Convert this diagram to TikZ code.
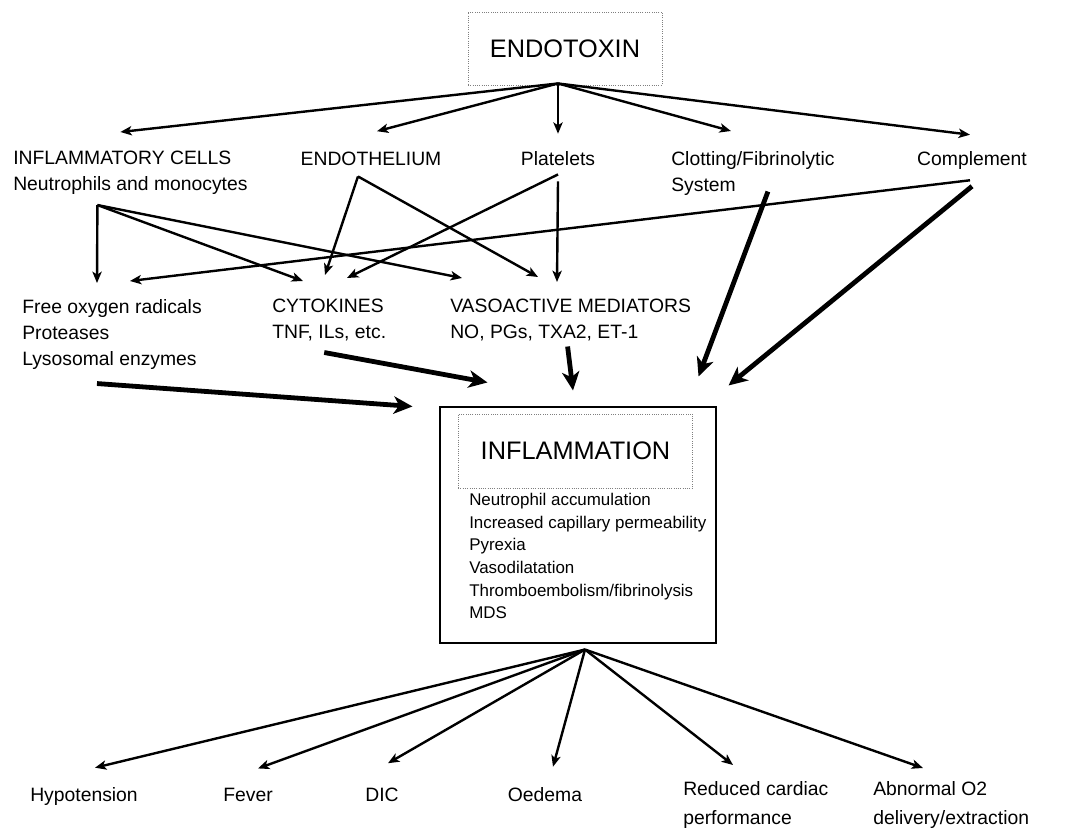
\documentclass[tikz,border=0pt]{standalone}
\usepackage{fontspec}
\setmainfont{Liberation Sans}
\usetikzlibrary{arrows.meta,calc,positioning}
\definecolor{boxgrey}{HTML}{7F7F7F}

\begin{document}
\begin{tikzpicture}[x=0.75pt, y=-0.75pt,
  lbl/.style={inner sep=0pt, align=left, font=\fontsize{14.5}{19.5}\selectfont},
  lowlbl/.style={inner sep=0pt, align=left, font=\fontsize{14.5}{21.75}\selectfont},
  biglbl/.style={font=\fontsize{19}{23}\selectfont},
  dotbox/.style={draw=boxgrey, densely dotted, line width=0.7pt},
  arr/.style={-{Stealth[length=8.5pt,width=7pt,inset=2.2pt]}, line width=1.8pt},
  fat/.style={-{Stealth[length=14pt,width=13pt,inset=4pt]}, line width=3.6pt}]
  \useasboundingbox (0,0) rectangle (1075,834);

  \node[dotbox, biglbl, minimum width=145.5pt, minimum height=54.75pt] (tox) at (565,48.5) {ENDOTOXIN};
  \coordinate (toxfoot) at ($(tox.south)+(-7,-2)$);

  \node[lbl, anchor=north west] (cells) at (13,151) {INFLAMMATORY CELLS\\Neutrophils and monocytes};
  \node[lbl, anchor=base] (endoth) at (371,166) {ENDOTHELIUM};
  \node[lbl, anchor=base] (plat) at (558,166) {Platelets};
  \node[lbl, anchor=north west] (clot) at (671,151) {Clotting/Fibrinolytic\\System};
  \node[lbl, anchor=base] (compl) at (972,166) {Complement};

  \node[lbl, anchor=north west] (rad) at (22,299) {Free oxygen radicals\\Proteases\\Lysosomal enzymes};
  \node[lbl, anchor=north west] (cyto) at (272,299) {CYTOKINES\\TNF, ILs, etc.};
  \node[lbl, anchor=north west] (vaso) at (450,299) {VASOACTIVE MEDIATORS\\NO, PGs, TXA2, ET-1};

  \node[draw, line width=0.8pt, minimum width=207pt, minimum height=177pt] (infl) at (578,525) {};
  \node[dotbox, biglbl, minimum width=176pt, minimum height=55.5pt] (inflhead) at (575.5,451) {INFLAMMATION};
  \node[inner sep=0pt, align=left, font=\fontsize{12.7}{17}\selectfont, anchor=north west] (infllist) at (469,493)
    {Neutrophil accumulation\\Increased capillary permeability\\Pyrexia\\Vasodilatation\\Thromboembolism/fibrinolysis\\MDS};
  \coordinate (inflfoot) at ($(infl.south)+(7,6)$);

  \node[lowlbl, anchor=base] (hypo) at (84,801) {Hypotension};
  \node[lowlbl, anchor=base] (fever) at (248,801) {Fever};
  \node[lowlbl, anchor=base] (dic) at (382,801) {DIC};
  \node[lowlbl, anchor=base] (oed) at (545,801) {Oedema};
  \node[lowlbl, anchor=north west] (red) at (683,781) {Reduced cardiac\\performance};
  \node[lowlbl, anchor=north west] (abn) at (873,781) {Abnormal O2\\delivery/extraction};

  \draw[arr] (toxfoot) -- ($(cells.north)+(-10,-19)$);
  \draw[arr] (toxfoot) -- ($(endoth.north)+(6,-21)$);
  \draw[arr] (toxfoot) -- ($(plat.north)+(0,-18)$);
  \draw[arr] (toxfoot) -- ($(clot.north)+(-22,-20)$);
  \draw[arr] (toxfoot) -- ($(compl.north)+(-2,-17)$);

  \draw[arr] ($(cells.south)+(-33,10)$) -- ($(rad.north)+(-15,-16)$);
  \draw[arr] ($(cells.south)+(-33,10)$) -- ($(cyto.north west)+(31,-18)$);
  \draw[arr] ($(cells.south)+(-33,10)$) -- ($(vaso.north west)+(12,-21)$);
  \draw[arr] ($(endoth.south)+(-13,10)$) -- ($(cyto.north west)+(53,-24)$);
  \draw[arr] ($(endoth.south)+(-13,10)$) -- ($(vaso.north west)+(88,-22)$);
  \draw[arr] ($(plat.south)+(0,8)$) -- ($(cyto.north west)+(75,-21)$);
  \draw[arr] ($(plat.south)+(0,15)$) -- ($(vaso.north west)+(107,-17)$);
  \draw[arr] ($(compl.south)+(-2,10)$) -- ($(rad.north west)+(108,-18)$);

  \draw[fat] ($(rad.south)+(-15,14)$) -- ($(infl.north west)+(-27,0)$);
  \draw[fat] ($(cyto.south)+(-5,11)$) -- ($(infl.north west)+(48,-24)$);
  \draw[fat] ($(vaso.south)+(-3,5)$) -- ($(infl.north)+(-5,-16)$);
  \draw[fat] ($(clot.south)+(15,-4)$) -- ($(infl.north east)+(-18,-30)$);
  \draw[fat] ($(compl.south)+(0,16)$) -- ($(infl.north east)+(12,-21)$);

  \foreach \n/\a/\dx/\dy in {hypo/north/11/-19, fever/north/10/-19, dic/north/6/-24, oed/north/8/-20, red/north west/50/-16, abn/north west/50/-13}
    \draw[arr] (inflfoot) -- ($(\n.\a)+(\dx,\dy)$);
\end{tikzpicture}
\end{document}
